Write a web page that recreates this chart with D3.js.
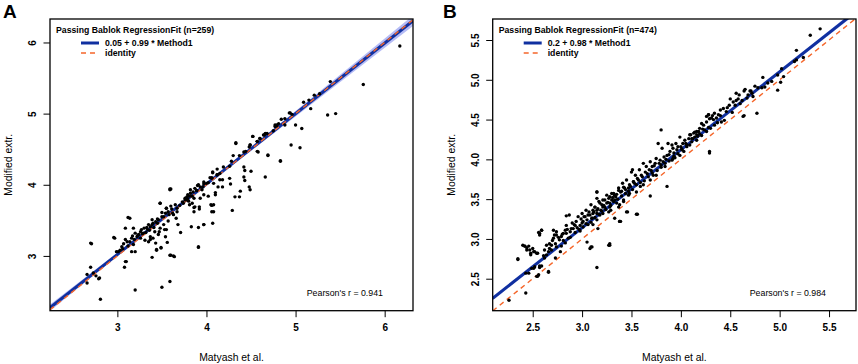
<!DOCTYPE html>
<html><head><meta charset="utf-8">
<script src="https://cdn.jsdelivr.net/npm/d3@7"></script>
<style>body{margin:0;background:#fff}svg{display:block;font-family:"Liberation Sans",Arial,sans-serif}</style>
</head><body><svg id="c" width="858" height="364"></svg>
<script>
// ---------- DATA ----------
const panelLetters = ["A", "B"];
const xTitle = "Matyash et al.";
const yTitle = "Modified extr.";
const legendTitles = ["Passing Bablok RegressionFit (n=259)", "Passing Bablok RegressionFit (n=474)"];
const fitLabels = ["0.05 + 0.99 * Method1", "0.2 + 0.98 * Method1"];
const identityLabel = "identity";
const pearsonLabels = ["Pearson's r = 0.941", "Pearson's r = 0.984"];
const intercepts = [0.05, 0.2];
const slopes = [0.99, 0.98];
const xTicksA = [3, 4, 5, 6];
const yTicksA = [3, 4, 5, 6];
const xTicksB = [2.5, 3.0, 3.5, 4.0, 4.5, 5.0, 5.5];
const yTicksB = [2.5, 3.0, 3.5, 4.0, 4.5, 5.0, 5.5];
const domainA = [2.244, 6.318];
const domainAy = [2.23, 6.33];
const domainB = [2.095, 5.773];
const domainBy = [2.098, 5.764];
// confidence band (x, half-width) for regression fit
const bandXA = [2.24, 3.0, 3.8, 4.6, 5.4, 6.32];
const bandHalfA = [0.045, 0.025, 0.015, 0.03, 0.05, 0.075];
const bandXB = [2.09, 3.0, 3.9, 4.8, 5.78];
const bandHalfB = [0.025, 0.012, 0.01, 0.015, 0.03];

const pointsA = [
[4.07,4.18],[4.12,4.14],[4.06,4.10],[4.00,4.02],[3.96,3.97],[3.91,4.00],[3.89,3.92],[3.82,3.88],[3.78,3.83],[3.84,3.84],
[3.86,3.81],[3.80,3.77],[3.74,3.74],[3.76,3.79],[3.59,3.94],[4.10,3.86],[4.08,3.72],[4.06,3.62],[4.07,3.46],[3.97,3.44],
[3.91,3.40],[3.83,3.41],[3.92,3.66],[3.86,3.62],[3.86,3.68],[3.84,3.74],[3.71,3.33],[3.91,3.12],[3.66,3.53],[3.67,3.62],
[3.63,3.58],[3.61,3.66],[3.57,3.62],[3.55,3.67],[3.54,3.60],[3.52,3.55],[3.50,3.61],[3.48,3.74],[3.46,3.51],[3.45,3.46],
[3.43,3.48],[3.40,3.46],[3.39,3.51],[3.37,3.41],[3.36,3.36],[3.34,3.37],[3.32,3.33],[3.30,3.39],[3.29,3.32],[3.27,3.37],
[3.26,3.34],[3.24,3.30],[3.22,3.27],[3.20,3.32],[3.19,3.23],[3.17,3.28],[3.16,3.25],[3.14,3.20],[3.14,3.53],[3.11,3.20],
[3.09,3.23],[3.07,3.17],[3.05,3.13],[3.03,3.08],[3.01,3.06],[2.99,3.06],[2.97,3.25],[3.09,3.39],[3.18,3.39],[3.39,3.44],
[3.37,3.23],[3.40,3.25],[3.43,3.18],[3.46,3.30],[3.48,3.39],[3.52,3.44],[3.55,3.37],[3.54,3.27],[3.56,3.19],[3.49,3.11],
[3.44,3.08],[3.39,2.98],[3.59,3.01],[3.64,2.99],[3.10,2.92],[3.08,2.84],[3.16,3.06],[3.20,3.06],[2.70,3.18],[2.70,2.84],
[2.73,2.76],[2.80,2.69],[2.66,2.62],[3.20,2.52],[3.50,2.56],[3.59,2.64],[2.81,2.39],[3.26,3.25],[3.31,3.22],[3.37,3.27],
[3.42,3.34],[3.47,3.34],[3.53,3.37],[2.79,2.68],[3.91,3.13],[3.60,3.01],[3.63,3.00],[3.49,3.12],[3.44,3.09],[3.09,2.92],
[2.71,3.17],[4.93,5.01],[4.88,4.93],[4.79,4.84],[4.77,4.82],[4.81,4.86],[4.69,4.41],[4.83,4.33],[4.66,4.11],[4.66,4.72],
[4.64,4.70],[4.60,4.65],[4.57,4.61],[4.58,4.46],[4.52,4.68],[4.49,4.56],[4.48,4.53],[4.42,4.46],[4.33,4.59],[4.37,4.41],
[4.30,4.41],[4.28,4.33],[4.26,4.26],[4.42,4.25],[4.43,4.20],[4.50,4.19],[4.42,4.11],[4.43,4.06],[4.48,3.97],[4.49,3.93],
[4.38,3.91],[4.37,3.83],[4.32,3.83],[4.26,4.09],[4.27,4.01],[4.19,4.25],[4.18,4.07],[4.15,4.07],[4.13,3.97],[4.18,3.97],
[4.15,4.16],[4.12,4.14],[4.12,4.22],[4.07,4.17],[4.06,4.09],[4.04,4.10],[4.08,4.02],[4.10,3.89],[4.06,3.71],[3.97,4.04],
[3.97,4.01],[3.93,3.97],[3.90,3.99],[3.87,3.95],[3.89,3.92],[3.85,3.90],[3.82,3.93],[3.81,3.84],[3.79,3.86],[3.76,3.81],
[3.77,3.79],[3.93,3.81],[3.97,3.86],[4.02,3.84],[3.87,3.69],[3.92,3.69],[3.81,3.72],[3.60,3.94],[3.48,3.74],[3.55,3.67],
[3.60,3.70],[3.65,3.72],[3.67,3.67],[6.17,5.95],[5.76,5.41],[5.39,5.45],[5.27,5.28],[5.21,5.26],[5.15,5.19],[5.09,5.16],
[5.17,5.07],[4.94,5.01],[4.96,4.99],[4.84,4.92],[4.77,4.84],[4.79,4.83],[4.88,4.84],[5.00,4.84],[5.07,4.79],[5.36,4.98],
[5.45,5.00],[4.95,4.56],[5.05,4.52],[4.75,4.76],[4.68,4.72],[4.65,4.70],[4.60,4.65],[4.57,4.61],[4.52,4.68],[4.49,4.56],
[4.44,4.47],[4.57,4.47],[4.83,4.34],[4.69,4.42],[4.33,4.58],[3.59,3.93],[4.29,3.64],[3.12,3.54],[2.96,3.26],[4.08,3.62],
[4.05,3.72],[3.97,3.44],[2.66,2.74],[2.76,2.72],
[3.23,3.29],[3.28,3.31],[3.33,3.40],[3.35,3.44],[3.41,3.40],[3.45,3.52],[3.50,3.55],[3.58,3.58],[3.62,3.60],[3.70,3.71],
[3.73,3.76],[3.79,3.80],[3.95,3.93],[4.02,4.03],[3.18,3.16],[3.12,3.14],[3.06,3.10],[3.57,3.49],[3.68,3.44],[3.35,3.20]
];

const pointsB = [
[3.52,3.72],[3.47,3.64],[3.42,3.65],[3.37,3.61],[3.33,3.55],[3.30,3.57],[3.27,3.51],[3.25,3.55],[3.21,3.49],[3.20,3.43],
[3.17,3.47],[3.15,3.51],[3.13,3.40],[3.11,3.36],[3.09,3.43],[3.07,3.34],[3.06,3.30],[3.04,3.36],[3.02,3.28],[3.00,3.32],
[2.99,3.25],[2.96,3.28],[2.94,3.22],[2.93,3.17],[2.90,3.20],[2.89,3.13],[2.87,3.30],[2.84,3.17],[2.83,3.11],[2.81,3.07],
[2.79,3.03],[2.77,2.99],[2.74,3.05],[2.73,2.94],[2.71,3.01],[2.69,2.92],[2.67,2.88],[2.66,2.84],[2.64,2.80],[2.62,2.76],
[2.61,2.79],[2.59,3.11],[2.56,3.08],[2.57,3.05],[2.71,3.11],[2.74,3.09],[2.72,3.05],[2.67,2.94],[2.69,2.86],[2.74,2.90],
[2.78,2.84],[2.79,2.91],[2.83,2.95],[2.86,3.01],[2.84,3.07],[2.88,3.09],[2.91,3.13],[2.98,3.17],[3.01,3.22],[3.05,3.24],
[3.10,3.26],[3.15,3.32],[3.19,3.36],[3.23,3.40],[3.28,3.45],[3.33,3.49],[3.38,3.43],[3.42,3.47],[3.37,3.40],[3.45,3.34],
[3.38,3.22],[3.28,2.94],[3.10,2.90],[3.08,2.88],[3.15,2.64],[2.46,2.91],[2.42,2.91],[2.44,2.86],[2.48,2.82],[2.52,2.84],
[2.55,2.82],[2.50,2.88],[2.35,2.75],[2.52,2.65],[2.49,2.63],[2.57,2.64],[2.59,2.66],[2.54,2.53],[2.56,2.55],[2.46,2.57],
[2.66,2.59],[2.43,2.32],[2.26,2.23],[2.73,2.76],
[4.28,4.56],[4.31,4.52],[4.26,4.47],[4.23,4.43],[4.19,4.39],[4.16,4.35],[4.13,4.33],[4.09,4.31],[4.08,4.26],[4.04,4.24],
[4.02,4.20],[3.99,4.28],[3.97,4.16],[3.95,4.20],[3.92,4.14],[3.91,4.18],[3.89,4.10],[3.87,4.20],[3.86,4.05],[3.83,4.03],
[3.81,4.14],[3.79,3.99],[3.80,4.37],[3.77,4.20],[3.75,4.01],[3.74,3.95],[3.71,3.91],[3.69,3.97],[3.68,3.87],[3.65,3.91],
[3.64,3.84],[3.62,3.95],[3.60,3.80],[3.58,3.87],[3.56,3.76],[3.54,3.80],[3.52,3.72],[3.50,3.84],[3.48,3.68],[3.45,3.74],
[3.43,3.64],[3.41,3.70],[3.39,3.59],[3.37,3.64],[3.34,3.53],[3.32,3.57],[3.30,3.49],[3.28,3.53],[3.25,3.45],[3.23,3.49],
[3.21,3.40],[3.18,3.45],[3.15,3.36],[3.13,3.40],[3.11,3.32],[3.10,3.26],[3.15,3.59],[3.51,3.87],[3.86,3.66],[3.69,3.54],
[3.56,3.31],[3.46,3.34],[3.39,3.22],[3.33,3.26],[3.27,3.34],[4.29,4.08],[4.09,4.18],[3.99,4.05],[3.92,4.01],[4.06,4.16],
[4.16,4.24],[3.62,3.68],[3.75,3.80],[3.84,3.91],[3.91,3.99],[4.01,4.12],[3.69,3.74],[3.55,3.59],[3.48,3.57],[3.42,3.49],
[3.35,3.45],[3.28,3.40],[3.21,3.32],[3.15,3.24],[3.11,3.18],[3.16,3.13],
[5.41,5.64],[5.31,5.56],[5.17,5.37],[5.24,5.28],[5.17,5.25],[5.02,5.14],[4.98,5.06],[5.04,5.04],[4.98,4.87],[4.92,4.98],
[4.83,5.03],[4.82,4.90],[4.85,4.91],[4.75,4.92],[4.72,4.83],[4.73,4.79],[4.68,4.81],[4.67,4.77],[4.64,4.86],[4.62,4.74],
[4.60,4.70],[4.59,4.81],[4.56,4.74],[4.53,4.72],[4.50,4.76],[4.49,4.68],[4.52,4.59],[4.47,4.65],[4.43,4.64],[4.40,4.62],
[4.38,4.56],[4.34,4.58],[4.32,4.55],[4.29,4.51],[4.28,4.56],[4.26,4.54],[4.37,4.46],[4.41,4.47],[4.44,4.49],[4.34,4.43],
[4.30,4.39],[4.26,4.35],[4.21,4.45],[4.22,4.38],[4.18,4.35],[4.16,4.31],[4.14,4.34],[4.11,4.26],[4.10,4.31],[4.64,4.55],
[4.77,4.58],[4.29,4.10],[4.71,4.86],[4.65,4.88],[4.56,4.83],[5.15,5.23],[5.01,4.97],[4.63,4.54],
[2.42,2.91],[2.57,3.07],[2.59,3.11],[2.84,3.29],[3.55,3.31],[3.28,2.92],[3.09,2.90],[3.15,3.59],[3.38,3.22],
[2.35,2.74],[2.40,2.92],[2.44,2.89],[2.47,2.86],[2.51,2.84],[2.54,2.82],[2.48,2.80],[2.43,2.57],[2.51,2.63],[2.55,2.53],
[2.57,2.66],[2.66,2.58],[3.27,2.92],[3.05,2.96],
[2.62,2.86],[2.64,2.92],[2.70,2.98],[2.76,3.02],[2.80,3.06],[2.85,3.12],[2.92,3.18],[2.95,3.14],[3.00,3.20],[3.03,3.28],
[3.08,3.30],[3.12,3.34],[3.16,3.38],[3.22,3.42],[3.26,3.46],[3.31,3.52],[3.35,3.56],[3.40,3.60],[3.44,3.62],[3.49,3.66],
[3.53,3.70],[3.57,3.74],[3.61,3.78],[3.66,3.82],[3.70,3.86],[3.73,3.92],[3.78,3.95],[3.82,3.97],[3.85,4.00],[3.88,4.06],
[3.93,4.08],[3.96,4.12],[4.00,4.16],[4.05,4.20],[4.11,4.22],[4.14,4.28],[4.19,4.32],[4.24,4.37],[4.28,4.40],[4.33,4.50],
[4.36,4.52],[4.40,4.55],[4.46,4.60],[4.55,4.68],[4.58,4.76],[4.70,4.86],[4.78,4.90],[4.88,4.96],[2.98,3.10],[3.06,3.18],
[3.18,3.30],[3.29,3.36],[3.47,3.55],[3.59,3.66],[3.72,3.80],[3.80,3.90],[3.94,4.02],[4.03,4.10],[4.21,4.30],[2.81,2.98],
[2.88,3.02],[2.93,3.08],
[2.97,3.12],[3.01,3.15],[3.04,3.19],[3.09,3.21],[3.13,3.27],[3.17,3.31],[3.20,3.35],[3.24,3.37],[3.29,3.42],[3.32,3.47],
[3.36,3.50],[3.40,3.54],[3.44,3.57],[3.47,3.60],[3.51,3.62],[3.55,3.68],[3.59,3.71],[3.63,3.73],[3.67,3.78],[3.71,3.83],
[3.76,3.86],[3.80,3.93],[3.84,3.95],[3.88,3.98],[3.93,4.04],[3.97,4.07],[4.01,4.13],[4.06,4.18],[4.12,4.26],[4.17,4.29]
];

// ---------- DRAW ----------
const svg = d3.select("#c");
const panels = [
  {L:50, R:413, T:19, B:310.7, dx:domainA, dy:domainAy, xt:xTicksA, yt:yTicksA, pts:pointsA, bx:bandXA, bh:bandHalfA, fmt:d3.format("d"), letterX:3, ytitleX:8, ytickX:32},
  {L:492.7, R:856, T:19, B:310.7, dx:domainB, dy:domainBy, xt:xTicksB, yt:yTicksB, pts:pointsB, bx:bandXB, bh:bandHalfB, fmt:d3.format(".1f"), letterX:443, ytitleX:451, ytickX:475}
];

panels.forEach((p, i) => {
  const x = d3.scaleLinear().domain(p.dx).range([p.L, p.R]);
  const y = d3.scaleLinear().domain(p.dy).range([p.B, p.T]);
  const g = svg.append("g");
  const clipId = "clip" + i;
  svg.append("clipPath").attr("id", clipId).append("rect")
    .attr("x", p.L).attr("y", p.T).attr("width", p.R - p.L).attr("height", p.B - p.T);

  const plot = g.append("g").attr("clip-path", `url(#${clipId})`);
  const a = intercepts[i], b = slopes[i];
  const area = d3.area().x(d => x(d[0])).y0(d => y(a + b*d[0] - d[1])).y1(d => y(a + b*d[0] + d[1])).curve(d3.curveMonotoneX);
  plot.append("path").datum(p.bx.map((v, k) => [v, p.bh[k]]))
    .attr("d", area).attr("fill", "#9ea6f2").attr("fill-opacity", 0.75);
  plot.append("line").attr("x1", x(p.dx[0])).attr("y1", y(a + b*p.dx[0]))
    .attr("x2", x(p.dx[1])).attr("y2", y(a + b*p.dx[1]))
    .attr("stroke", "#1030a0").attr("stroke-width", 3);
  plot.append("line").attr("x1", x(p.dx[0])).attr("y1", y(p.dx[0]))
    .attr("x2", x(p.dx[1])).attr("y2", y(p.dx[1]))
    .attr("stroke", "#f5662a").attr("stroke-width", 1.4).attr("stroke-dasharray", "5,4");
  plot.append("g").selectAll("circle").data(p.pts).join("circle")
    .attr("cx", d => x(d[0])).attr("cy", d => y(d[1])).attr("r", 1.7).attr("fill", "#000");

  g.append("rect").attr("x", p.L).attr("y", p.T).attr("width", p.R - p.L).attr("height", p.B - p.T)
    .attr("fill", "none").attr("stroke", "#000").attr("stroke-width", 1.3);

  const xa = g.append("g").attr("transform", `translate(0,${p.B})`)
    .call(d3.axisBottom(x).tickValues(p.xt).tickFormat(p.fmt).tickSize(6.5).tickPadding(7));
  xa.select(".domain").remove();
  xa.selectAll("text").attr("font-size", 10).attr("font-weight", "bold").attr("font-family", "Liberation Sans, Arial");
  const ya = g.append("g").attr("transform", `translate(${p.L},0)`)
    .call(d3.axisLeft(y).tickValues(p.yt).tickFormat(p.fmt).tickSize(6.5));
  ya.select(".domain").remove();
  ya.selectAll("text").attr("font-size", 10).attr("font-weight", "bold").attr("font-family", "Liberation Sans, Arial")
    .attr("x", null).attr("text-anchor", "middle")
    .attr("transform", `translate(${p.ytickX - p.L},0) rotate(-90)`).attr("dy", "0.35em");

  g.append("text").attr("x", (p.L + p.R)/2).attr("y", 360.5).attr("text-anchor", "middle")
    .attr("font-size", 10.4).text(xTitle);
  g.append("text").attr("transform", `translate(${p.ytitleX + 4},${(p.T + p.B)/2}) rotate(-90)`)
    .attr("text-anchor", "middle").attr("font-size", 10.4).text(yTitle);
  g.append("text").attr("x", p.letterX).attr("y", 17.5).attr("font-size", 19).attr("font-weight", "bold").text(panelLetters[i]);

  const lx = p.L + 6;
  g.append("text").attr("x", lx).attr("y", 33.2).attr("font-size", 8.7).attr("font-weight", "bold").text(legendTitles[i]);
  g.append("line").attr("x1", lx + 25).attr("x2", lx + 43).attr("y1", 43).attr("y2", 43)
    .attr("stroke", "#1030a0").attr("stroke-width", 3);
  g.append("line").attr("x1", lx + 25).attr("x2", lx + 43).attr("y1", 53).attr("y2", 53)
    .attr("stroke", "#f5662a").attr("stroke-width", 1.4).attr("stroke-dasharray", "5,4");
  g.append("text").attr("x", lx + 49).attr("y", 46.2).attr("font-size", 8.7).attr("font-weight", "bold").text(fitLabels[i]);
  g.append("text").attr("x", lx + 49).attr("y", 56.2).attr("font-size", 8.7).attr("font-weight", "bold").text(identityLabel);

  g.append("text").attr("x", p.R - 30).attr("y", 296).attr("text-anchor", "end")
    .attr("font-size", 8.8).text(pearsonLabels[i]);
});
</script></body></html>
